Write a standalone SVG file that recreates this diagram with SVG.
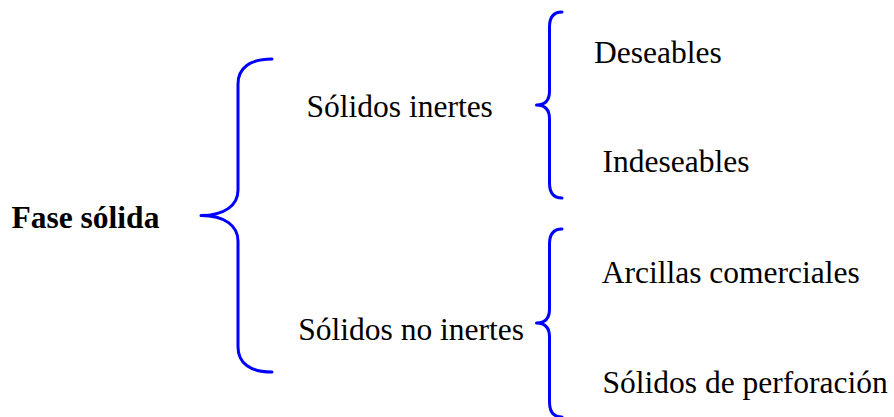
<svg xmlns="http://www.w3.org/2000/svg" width="894" height="417" viewBox="0 0 894 417">
<style>
.t{font-family:'Liberation Serif','DejaVu Serif',serif;font-size:31.5px;fill:#000}
.b{font-weight:bold}
.br{fill:none;stroke:#0000ff;stroke-width:3;stroke-linecap:round;stroke-linejoin:round}
</style>
<rect width="894" height="417" fill="#fff"/>
<g id="connectors">
<path class="br" d="M272,59 C250,59 238,68 238,84 L238,190 C238,205 225,215.5 201,215.5 C225,215.5 238,226 238,241 L238,347 C238,363 250,372 272,372"/>
<path class="br" d="M562,12 C554,12 549.5,17 549.5,27 L549.5,91 C549.5,100 545,105 536.5,105 C545,105 549.5,110 549.5,119 L549.5,183 C549.5,193 554,198 562,198"/>
<path class="br" d="M562,229 C554,229 549.5,234 549.5,244 L549.5,309 C549.5,318 545,323 536.5,323 C545,323 549.5,328 549.5,337 L549.5,402 C549.5,412 554,417 562,417"/>
</g>
<g id="fase"><text class="t b" x="11.5" y="227.5">Fase sólida</text></g>
<g id="inertes"><text class="t" x="306.5" y="116.7">Sólidos inertes</text></g>
<g id="noinertes"><text class="t" x="298.3" y="340">Sólidos no inertes</text></g>
<g id="deseables"><text class="t" x="594" y="63.3">Deseables</text></g>
<g id="indeseables"><text class="t" x="602.5" y="171.7">Indeseables</text></g>
<g id="arcillas"><text class="t" x="601.7" y="283.3">Arcillas comerciales</text></g>
<g id="perforacion"><text class="t" x="602.5" y="393.3">Sólidos de perforación</text></g>
</svg>
